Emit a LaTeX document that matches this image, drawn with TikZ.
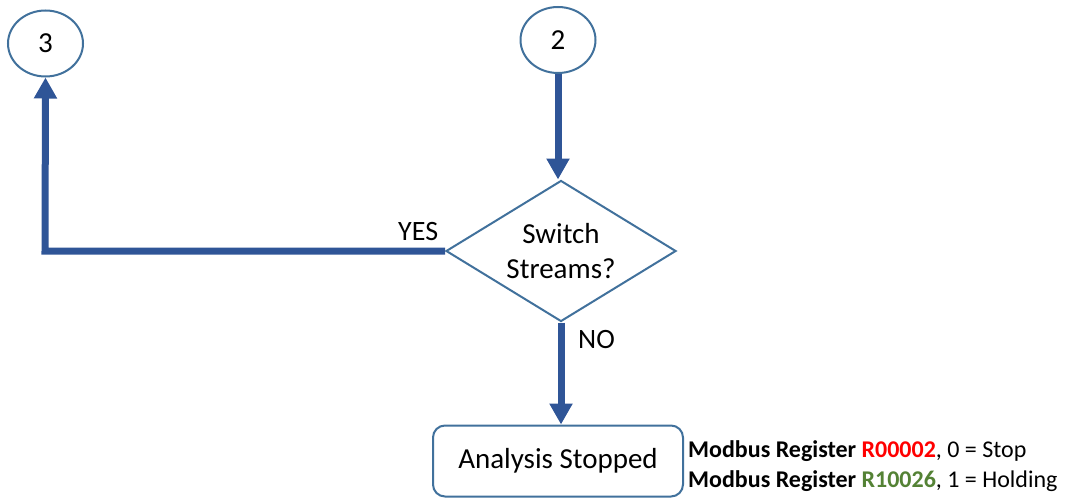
\documentclass[tikz,border=0pt]{standalone}
\usepackage{fontspec}
\setmainfont{Carlito}
\usetikzlibrary{shapes.geometric,arrows.meta}
\definecolor{outl}{HTML}{41719C}
\definecolor{arr}{HTML}{2F5597}
\definecolor{regred}{HTML}{FF0000}
\definecolor{reggreen}{HTML}{548235}
\tikzset{
  conn/.style={draw=outl,fill=white,line width=2pt,ellipse,minimum width=75pt,minimum height=66pt,inner sep=0pt,font=\fontsize{29}{35}\selectfont},
  decision/.style={draw=outl,fill=white,line width=2pt,diamond,aspect=1.62,minimum width=230pt,minimum height=141pt,inner sep=0pt,align=center,font=\fontsize{29}{35}\selectfont},
  procbox/.style={draw=outl,fill=white,line width=2pt,rounded corners=12pt,minimum width=250pt,minimum height=71pt,inner sep=0pt,font=\fontsize{29}{35}\selectfont},
  flow/.style={draw=arr,line width=7pt,line join=miter,-{Triangle[length=21pt,width=22pt]}},
  lbl/.style={inner sep=0pt,font=\fontsize{28}{34}\selectfont},
  note/.style={inner sep=0pt,anchor=base west,font=\fontsize{24}{30}\selectfont},
}
\begin{document}
\begin{tikzpicture}[x=1pt,y=-1pt]
\useasboundingbox (0,0) rectangle (1065,500);
\node[conn] (c3) at (45.5,43.5) {3};
\node[conn] (c2) at (558,40) {2};
\node[decision] (d) at (561,251) {Switch\\Streams?};
\node[procbox] (p) at (558,461) {Analysis Stopped};
\coordinate (corner) at (45,251);
\draw[flow] (c2.south) -- (d.north -| c2.south);
\draw[flow] (d.west) -- (corner) -- (c3.south);
\draw[flow] (d.south) -- (p.north -| d.south);
\node[lbl,anchor=base west] (yes) at (398,240) {YES};
\node[lbl,anchor=base west] (no) at (578,348) {NO};
\node[note] (m1) at (688,457) {\textbf{Modbus Register \textcolor{regred}{R00002}}, 0 = Stop};
\node[note] (m2) at (688,487) {\textbf{Modbus Register \textcolor{reggreen}{R10026}}, 1 = Holding};
\end{tikzpicture}
\end{document}
